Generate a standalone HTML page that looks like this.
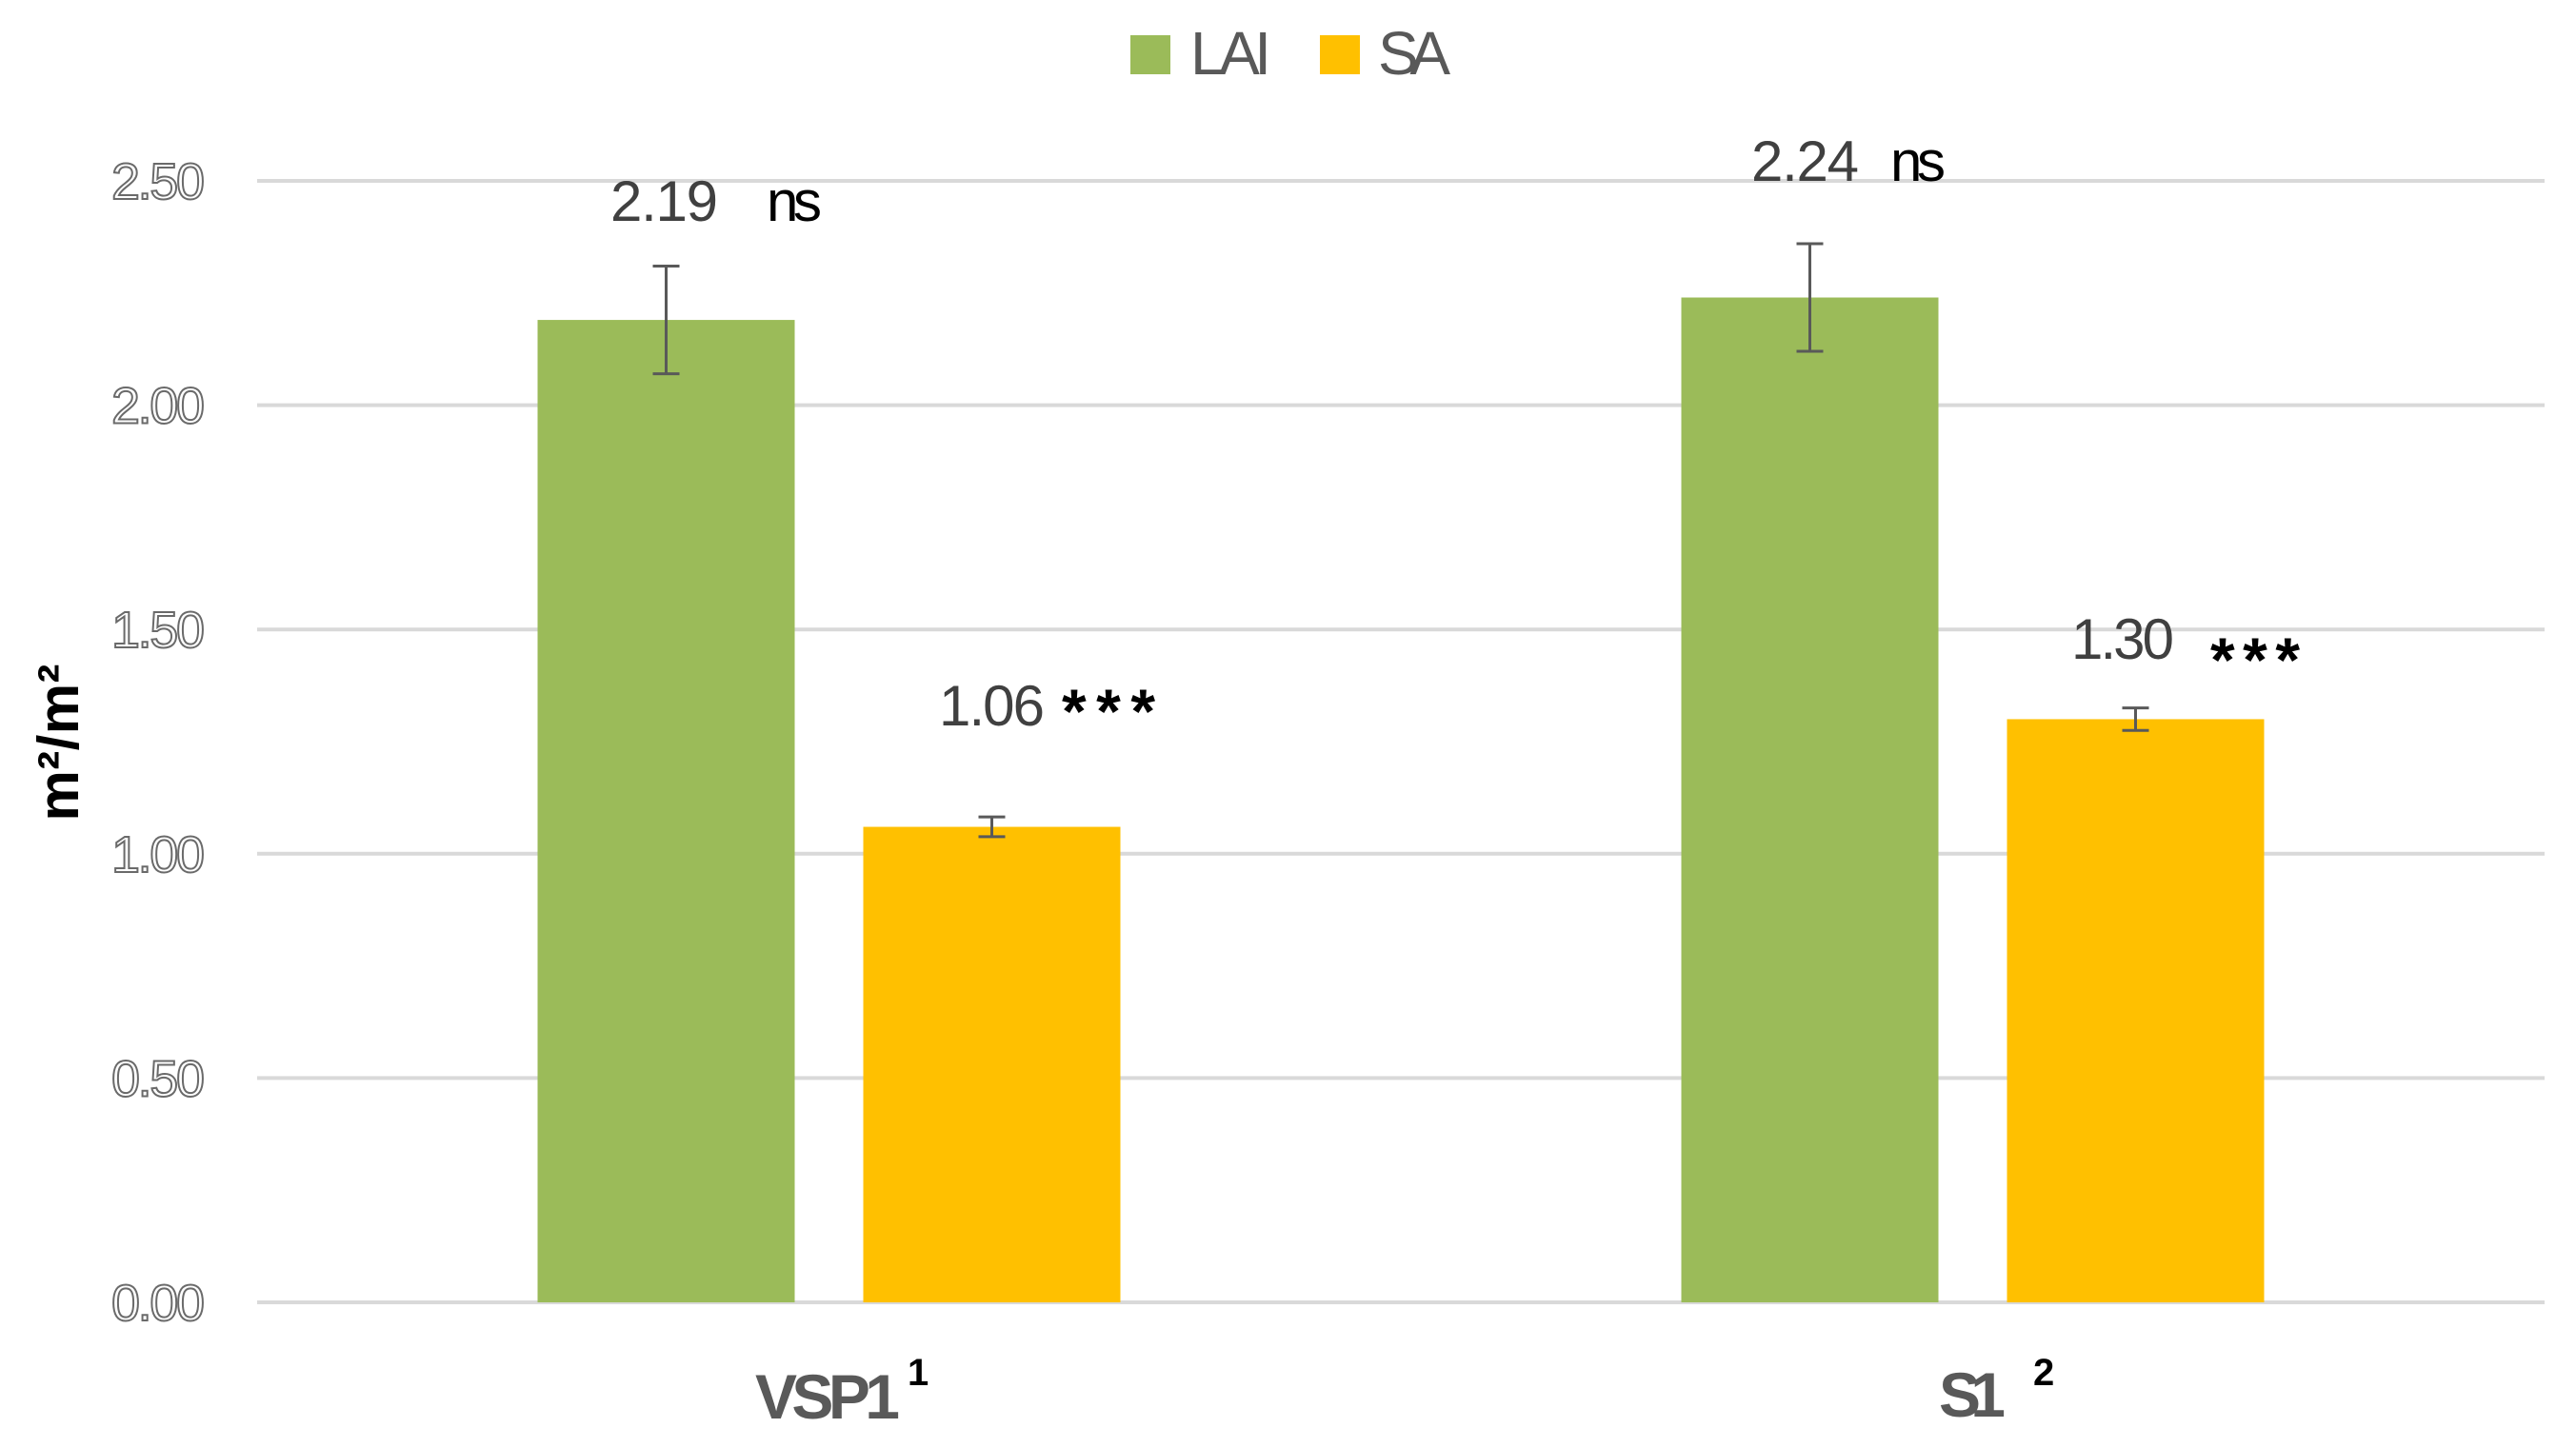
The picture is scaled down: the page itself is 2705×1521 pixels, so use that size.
<!DOCTYPE html>
<html><head><meta charset="utf-8"><style>
html,body{margin:0;padding:0;background:#fff;}
svg{display:block;font-family:"Liberation Sans",sans-serif;}
</style></head><body>
<svg id="chart" width="2705" height="1521" viewBox="0 0 2705 1521" xmlns="http://www.w3.org/2000/svg">
<g id="grid"></g>
<g id="yticks"></g>
<g id="bars"></g>
<g id="errs"></g>
<g>
  <rect x="1187" y="37" width="42" height="41" fill="#9bbb59"/>
  <text x="1250" y="78" font-size="64" fill="#595959" textLength="85">LAI</text>
  <rect x="1386" y="37" width="42" height="41" fill="#ffc000"/>
  <text x="1447" y="78" font-size="64" fill="#595959" textLength="76">SA</text>
</g>
<text transform="translate(82,780) rotate(-90)" text-anchor="middle" font-size="60" font-weight="bold" fill="#000" textLength="165">m²/m²</text>
<g>
  <text x="793" y="1490" font-size="66" font-weight="bold" fill="#595959" textLength="152">VSP1</text>
  <text x="953" y="1455" font-size="40" font-weight="bold" fill="#000">1</text>
  <text x="2036" y="1488" font-size="66" font-weight="bold" fill="#595959" textLength="70">S1</text>
  <text x="2135" y="1455" font-size="40" font-weight="bold" fill="#000">2</text>
</g>
<g>
  <text x="641" y="232" font-size="60" fill="#404040" textLength="113">2.19</text>
  <text x="805" y="232" font-size="60" fill="#000" textLength="58">ns</text>
  <text x="986" y="762" font-size="60" fill="#404040" textLength="111">1.06</text>
  <text x="1115" y="770" font-size="66" font-weight="bold" fill="#000" textLength="98">***</text>
  <text x="1839" y="190" font-size="60" fill="#404040" textLength="113">2.24</text>
  <text x="1985" y="190" font-size="60" fill="#000" textLength="58">ns</text>
  <text x="2175" y="692" font-size="60" fill="#404040" textLength="108">1.30</text>
  <text x="2321" y="716" font-size="66" font-weight="bold" fill="#000" textLength="94">***</text>
</g>
</svg>
<script>
const categories = ["VSP1", "S1"];
const seriesNames = ["LAI", "SA"];
const laiValues = [2.19, 2.24];
const saValues = [1.06, 1.30];
const laiErrors = [0.12, 0.12];
const saErrors = [0.022, 0.025];
const yTicks = [0, 0.5, 1.0, 1.5, 2.0, 2.5];
const yTickLabels = ["0.00", "0.50", "1.00", "1.50", "2.00", "2.50"];

const NS = "http://www.w3.org/2000/svg";
const plotLeft = 270, plotRight = 2672, y0 = 1368, yTop = 190, yMax = 2.5;
const colors = ["#9bbb59", "#ffc000"];
const barW = 270, barGap = 72;
function yScale(v){ return y0 - (v / yMax) * (y0 - yTop); }
function xCenter(i){ const w = (plotRight - plotLeft) / categories.length; return plotLeft + w * (i + 0.5); }
function mk(tag, attrs, parent){ const e = document.createElementNS(NS, tag); for (const k in attrs) e.setAttribute(k, attrs[k]); parent.appendChild(e); return e; }

const grid = document.getElementById('grid');
const yt = document.getElementById('yticks');
yTicks.forEach((t, i) => {
  const l = mk('line', {x1: plotLeft, x2: plotRight, y1: yScale(t), y2: yScale(t), stroke: '#d9d9d9', 'stroke-width': 4}, grid);
  
  
  const tx = mk('text', {x: 215, y: yScale(t) + 19, 'text-anchor': 'end', 'font-size': 54, fill: '#fff', stroke: '#6a6a6a', 'stroke-width': 2, textLength: 98}, yt);
  tx.textContent = yTickLabels[i];
  
  
});

const bars = document.getElementById('bars');
const errs = document.getElementById('errs');
const series = [laiValues, saValues];
const errors = [laiErrors, saErrors];
categories.forEach((c, ci) => {
  const cx = xCenter(ci);
  series.forEach((vals, si) => {
    const left = si === 0 ? cx - barGap / 2 - barW : cx + barGap / 2;
    const v = vals[ci];
    const r = mk('rect', {x: left, y: yScale(v), width: barW, height: y0 - yScale(v), fill: colors[si]}, bars);
    
    
    const ex = left + barW / 2, e = errors[si][ci];
    const g = mk('g', {stroke: '#595959', 'stroke-width': 3, fill: 'none'}, errs);
    
    
    mk('line', {x1: ex, x2: ex, y1: yScale(v + e), y2: yScale(v - e)}, g);
    mk('line', {x1: ex - 14, x2: ex + 14, y1: yScale(v + e), y2: yScale(v + e)}, g);
    mk('line', {x1: ex - 14, x2: ex + 14, y1: yScale(v - e), y2: yScale(v - e)}, g);
  });
});
</script>
</body></html>
